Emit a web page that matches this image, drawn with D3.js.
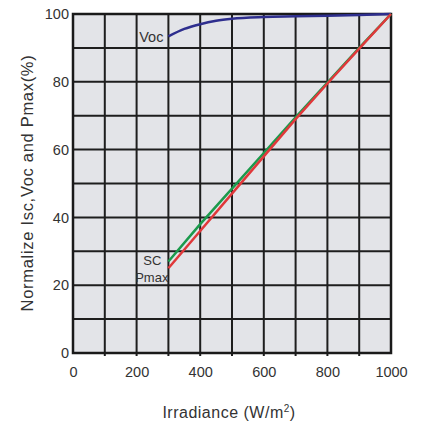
<!DOCTYPE html>
<html>
<head>
<meta charset="utf-8">
<script src="https://cdn.jsdelivr.net/npm/d3@7"></script>
<style>
  body { margin: 0; background: #fff; }
  text { font-family: "Liberation Sans", Arial, sans-serif; fill: #333; }
</style>
</head>
<body>
<script>
// data
var irradiance = [300, 400, 500, 600, 700, 800, 900, 1000];
var isc = [27, 38, 48.5, 59, 69.5, 79.8, 90, 100];
var pmax = [25, 36, 47, 58, 69, 79.5, 89.8, 100];
var vocX = [300, 350, 400, 450, 500, 600, 700, 800, 900, 1000];
var voc = [93.4, 95.6, 97.0, 98.0, 98.6, 99.1, 99.3, 99.5, 99.7, 100];
var xTicks = [0, 200, 400, 600, 800, 1000];
var yTicks = [0, 20, 40, 60, 80, 100];

var margin = {top: 14, right: 32, bottom: 72, left: 73},
  width = 423 - margin.left - margin.right,
  height = 425 - margin.top - margin.bottom;

var svg = d3.select("body").append("svg")
  .attr("width", 423).attr("height", 425);
var g = svg.append("g")
  .attr("transform", "translate(" + margin.left + "," + margin.top + ")");

var x = d3.scaleLinear().domain([0, 1000]).range([0, width]);
var y = d3.scaleLinear().domain([0, 100]).range([height, 0]);

// background + grid
g.append("rect").attr("width", width).attr("height", height).attr("fill", "#e3e4e8");

g.selectAll(".vgrid").data(d3.range(100, 1000, 100)).enter().append("line")
  .attr("x1", x).attr("x2", x).attr("y1", 0).attr("y2", height + 3)
  .attr("stroke", "#1e1e1e").attr("stroke-width", 2);

g.selectAll(".hgrid").data(d3.range(10, 100, 10)).enter().append("line")
  .attr("y1", y).attr("y2", y).attr("x1", 0).attr("x2", width)
  .attr("stroke", "#1e1e1e").attr("stroke-width", 2);

g.append("rect").attr("width", width).attr("height", height)
  .attr("fill", "none").attr("stroke", "#1a1a1a").attr("stroke-width", 2.5);

// axes
var yAxis = g.append("g").call(d3.axisLeft(y).tickValues(yTicks).tickSize(0).tickPadding(4));
yAxis.select(".domain").remove();
yAxis.selectAll("text").attr("font-size", 14.5).style("fill", "#333");

var xAxis = g.append("g").attr("transform", "translate(0," + height + ")")
  .call(d3.axisBottom(x).tickValues(xTicks).tickFormat(d3.format("d")).tickSize(0).tickPadding(14));
xAxis.select(".domain").remove();
xAxis.selectAll("text").attr("font-size", 14.5).style("fill", "#333");

// curves
var line = d3.line().x(function (d) { return x(d[0]); }).y(function (d) { return y(d[1]); });

g.append("path")
  .datum(d3.zip(vocX, voc))
  .attr("d", line.curve(d3.curveMonotoneX))
  .attr("fill", "none").attr("stroke", "#2e2e8e").attr("stroke-width", 2.5);

g.append("path")
  .datum(d3.zip(irradiance, isc))
  .attr("d", line.curve(d3.curveLinear))
  .attr("fill", "none").attr("stroke", "#1b9a4c").attr("stroke-width", 2.5);

g.append("path")
  .datum(d3.zip(irradiance, pmax))
  .attr("d", line.curve(d3.curveLinear))
  .attr("fill", "none").attr("stroke", "#e0383a").attr("stroke-width", 2.5);

// curve labels
g.append("text").attr("x", x(300) - 5).attr("y", y(voc[0]) + 6)
  .attr("text-anchor", "end").attr("font-size", 14.5).text("Voc");
g.append("text").attr("x", x(300) - 16).attr("y", y(isc[0]) + 4)
  .attr("text-anchor", "middle").attr("font-size", 13).text("SC");
g.append("text").attr("x", x(300)).attr("y", y(pmax[0]) + 14)
  .attr("text-anchor", "end").attr("font-size", 13).text("Pmax");

// axis titles
svg.append("text").attr("x", 229).attr("y", 418)
  .attr("text-anchor", "middle").attr("font-size", 16).attr("letter-spacing", 0.5)
  .html('Irradiance (W/m<tspan dy="-6" font-size="10">2</tspan><tspan dy="6">)</tspan>');

svg.append("text")
  .attr("transform", "translate(33,183) rotate(-90)")
  .attr("text-anchor", "middle").attr("font-size", 16.5).attr("letter-spacing", 0.7)
  .text("Normalize Isc,Voc and Pmax(%)");
</script>
</body>
</html>
